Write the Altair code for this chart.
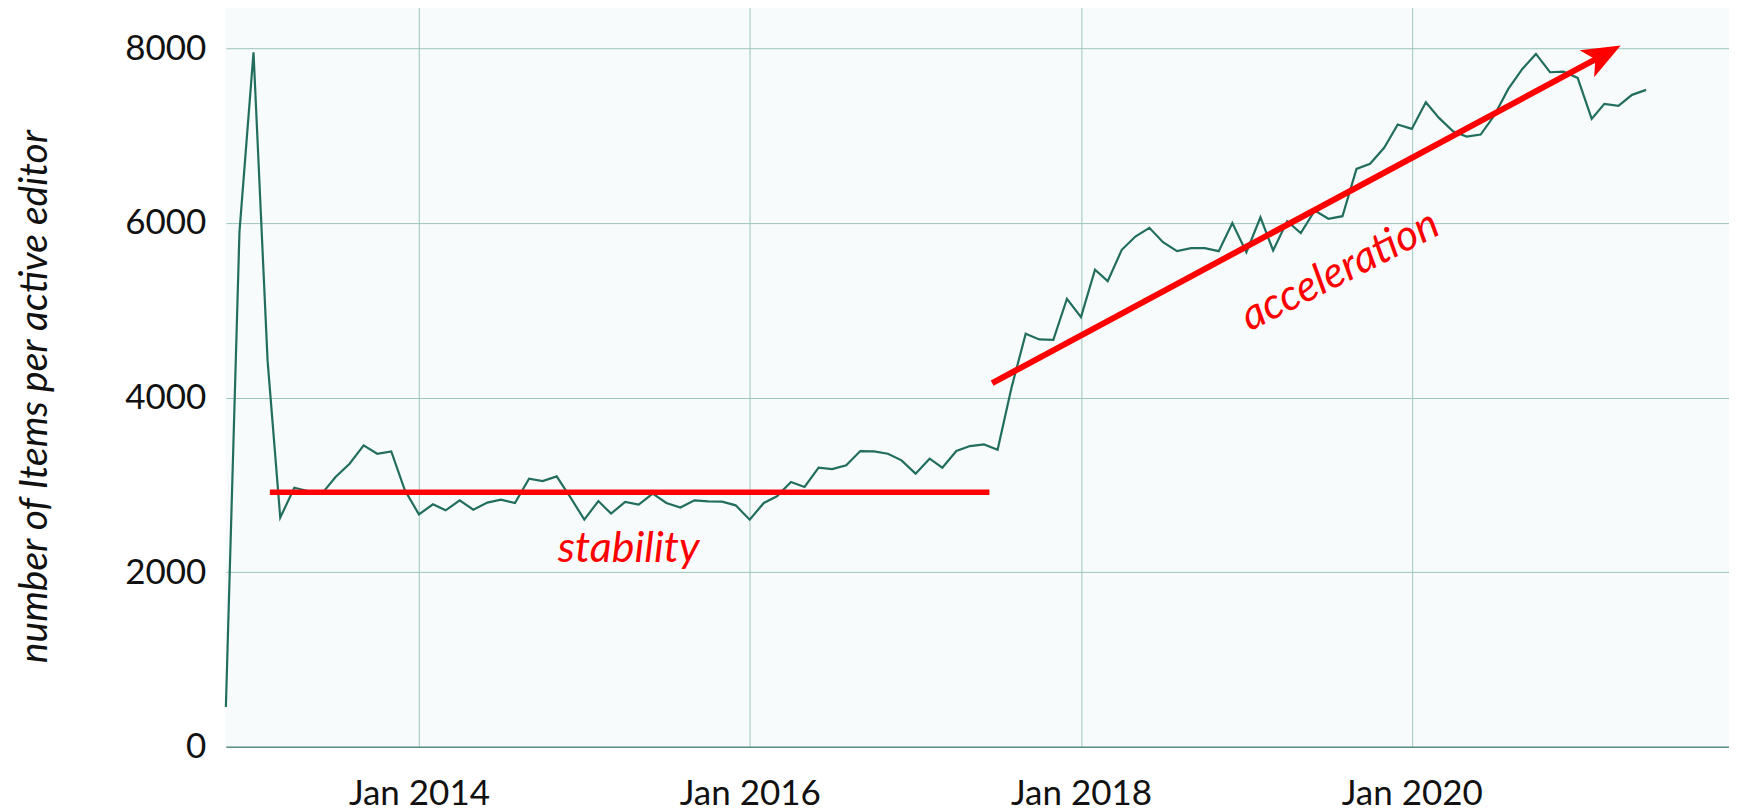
import altair as alt
import pandas as pd

# ---- data (monthly, starting Nov 2012) ----
first_month = "2012-11-01"
items_per_editor = [
    457, 5900, 7955, 4426, 2625, 2968, 2930, 2900, 3090, 3243, 3453, 3357,
    3384, 2938, 2663, 2777, 2709, 2823, 2716, 2797, 2831, 2793, 3071, 3044,
    3098, 2860, 2602, 2815, 2671, 2804, 2774, 2900, 2793, 2740, 2823, 2812,
    2808, 2766, 2602, 2793, 2869, 3033, 2976, 3197, 3182, 3224, 3388, 3384,
    3357, 3281, 3129, 3300, 3197, 3388, 3445, 3464, 3403, 4120, 4731, 4666,
    4662, 5132, 4922, 5464, 5334, 5693, 5845, 5945, 5780, 5677, 5712, 5712,
    5677, 6000, 5666, 6066, 5685, 6021, 5884, 6143, 6048, 6078, 6620, 6678,
    6861, 7128, 7078, 7383, 7204, 7051, 6990, 7013, 7231, 7536, 7765, 7937,
    7727, 7734, 7662, 7193, 7365, 7342, 7468, 7525,
]
dates = pd.date_range(first_month, periods=len(items_per_editor), freq="MS")

x_tick_years = [2014, 2016, 2018, 2020]
y_ticks = [0, 2000, 4000, 6000, 8000]

# annotations (data coordinates)
stability_start = ["2013-02-06T00:00:00"]
stability_end = ["2017-06-13T00:00:00"]
stability_level = [2915]
stability_text_date = ["2015-04-09T00:00:00"]
stability_text_value = [2117]

accel_start = ["2017-06-19T00:00:00"]
accel_end = ["2021-02-11T00:00:00"]
accel_start_value = [4166]
accel_end_value = [7880]
accel_tip_date = ["2021-04-06T00:00:00"]
accel_tip_value = [8032]
accel_text_date = ["2019-08-09T00:00:00"]
accel_text_value = [5319]

df = pd.DataFrame({"date": dates, "items": items_per_editor})

RED = "#ff0000"
FONT = "Lato"
Y_TITLE = "number of Items per active editor"

x_scale = alt.Scale(
    domain=[alt.DateTime(year=2012, month=11, date=1), alt.DateTime(year=2021, month=12, date=1)],
    nice=False,
)
y_scale = alt.Scale(domain=[0, 8483], nice=False, zero=True)

line = alt.Chart(df).mark_line(color="#226e5e", strokeWidth=2.2).encode(
    x=alt.X(
        "date:T",
        scale=x_scale,
        title=None,
        axis=alt.Axis(
            values=[alt.DateTime(year=y, month=1, date=1) for y in x_tick_years],
            format="%b %Y",
            title=None,
            ticks=False,
            labelPadding=30,
            labelFont=FONT,
            labelFontSize=35,
            labelColor="#111111",
            grid=True,
            gridColor="#9cc6bd",
            gridWidth=1,
            domainColor="#5f8f85",
            domainWidth=1.5,
        ),
    ),
    y=alt.Y(
        "items:Q",
        scale=y_scale,
        title=Y_TITLE,
        axis=alt.Axis(
            values=y_ticks,
            format="d",
            title=Y_TITLE,
            titleFont=FONT,
            titleFontStyle="italic",
            titleFontWeight="normal",
            titleFontSize=39,
            titleColor="#111111",
            titleAngle=270,
            titleAlign="center",
            titleBaseline="middle",
            titleX=-191,
            titleY=390,
            ticks=False,
            domain=False,
            labelPadding=20,
            labelFont=FONT,
            labelFontSize=35,
            labelColor="#111111",
            grid=True,
            gridColor="#9cc6bd",
            gridWidth=1,
        ),
    ),
)

stab_df = pd.DataFrame({"start": stability_start, "end": stability_end, "level": stability_level})
stab_line = alt.Chart(stab_df).mark_rule(color=RED, strokeWidth=5.5).encode(
    x=alt.X("start:T", scale=x_scale, title=None),
    x2="end:T",
    y=alt.Y("level:Q", scale=y_scale, title=Y_TITLE),
)

stab_txt_df = pd.DataFrame({"d": stability_text_date, "v": stability_text_value, "t": ["stability"]})
stab_text = alt.Chart(stab_txt_df).mark_text(
    color=RED, font=FONT, fontStyle="italic", fontSize=43, align="center", baseline="alphabetic"
).encode(
    x=alt.X("d:T", scale=x_scale, title=None),
    y=alt.Y("v:Q", scale=y_scale, title=Y_TITLE),
    text="t:N",
)

acc_df = pd.DataFrame({"s": accel_start, "e": accel_end, "v0": accel_start_value, "v1": accel_end_value})
acc_line = alt.Chart(acc_df).mark_rule(color=RED, strokeWidth=6).encode(
    x=alt.X("s:T", scale=x_scale, title=None),
    x2="e:T",
    y=alt.Y("v0:Q", scale=y_scale, title=Y_TITLE),
    y2="v1:Q",
)

head_df = pd.DataFrame({"d": accel_tip_date, "v": accel_tip_value})
acc_head = alt.Chart(head_df).mark_point(
    shape="M0,0 L-1,-0.4 L-0.75,0 L-1,0.4 Z",
    filled=True,
    color=RED,
    opacity=1,
    size=5900,
    angle=331.8,
    strokeWidth=0,
).encode(
    x=alt.X("d:T", scale=x_scale, title=None),
    y=alt.Y("v:Q", scale=y_scale, title=Y_TITLE),
)

acc_txt_df = pd.DataFrame({"d": accel_text_date, "v": accel_text_value, "t": ["acceleration"]})
acc_text = alt.Chart(acc_txt_df).mark_text(
    color=RED, font=FONT, fontStyle="italic", fontSize=43, align="center",
    baseline="alphabetic", angle=333,
).encode(
    x=alt.X("d:T", scale=x_scale, title=None),
    y=alt.Y("v:Q", scale=y_scale, title=Y_TITLE),
    text="t:N",
)

chart = (
    alt.layer(line, stab_line, stab_text, acc_line, acc_head, acc_text)
    .properties(
        width=1504,
        height=741,
        autosize=alt.AutoSizeParams(type="none"),
        padding={"left": 218, "top": -2, "right": 0, "bottom": 64},
        background="white",
    )
    .configure_view(fill="#f8fbfb", stroke=None)
)

chart.save("out.html", embed_options={"renderer": "svg", "actions": False})
